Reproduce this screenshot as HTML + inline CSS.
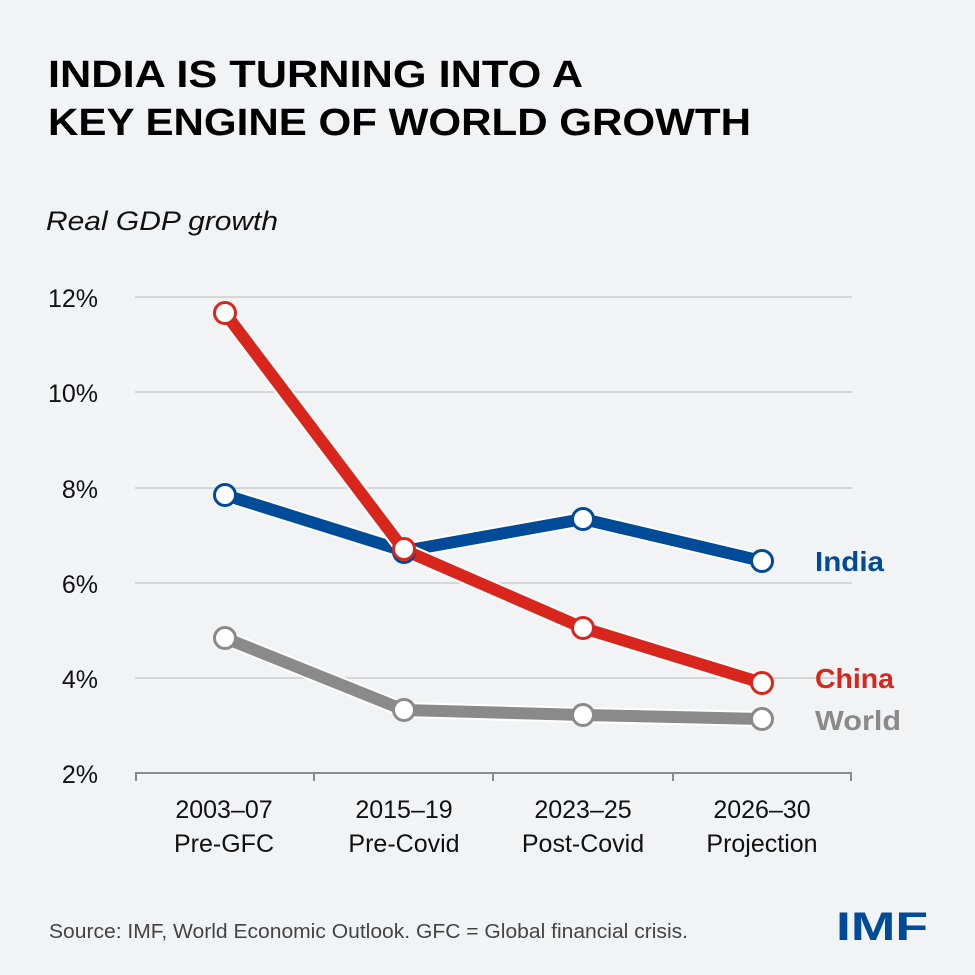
<!DOCTYPE html>
<html><head><meta charset="utf-8"><style>
html,body{margin:0;padding:0;background:#f2f3f5;}
svg{display:block;font-family:"Liberation Sans",sans-serif;}
</style></head><body>
<svg width="975" height="975" viewBox="0 0 975 975">
<rect width="975" height="975" fill="#f2f3f5"/>
<text x="48" y="87" font-size="38" font-weight="bold" fill="#000" textLength="535" lengthAdjust="spacingAndGlyphs">INDIA IS TURNING INTO A</text>
<text x="48" y="135" font-size="38" font-weight="bold" fill="#000" textLength="703" lengthAdjust="spacingAndGlyphs">KEY ENGINE OF WORLD GROWTH</text>
<text x="46" y="230" font-size="27" font-style="italic" fill="#111" textLength="232" lengthAdjust="spacingAndGlyphs">Real GDP growth</text>
<g stroke="#d6d6d8" stroke-width="2">
<line x1="135" y1="297" x2="852" y2="297"/><line x1="135" y1="392" x2="852" y2="392"/>
<line x1="135" y1="488" x2="852" y2="488"/><line x1="135" y1="583" x2="852" y2="583"/>
<line x1="135" y1="678" x2="852" y2="678"/>
</g>
<g stroke="#8a8a8a" stroke-width="2" fill="none">
<line x1="135" y1="773" x2="852" y2="773"/>
<line x1="136" y1="773" x2="136" y2="781"/><line x1="314" y1="773" x2="314" y2="781"/>
<line x1="493" y1="773" x2="493" y2="781"/><line x1="673" y1="773" x2="673" y2="781"/><line x1="851" y1="773" x2="851" y2="781"/>
</g>
<g font-size="25" fill="#111" text-anchor="end">
<text x="98" y="307">12%</text><text x="98" y="402">10%</text><text x="98" y="498">8%</text>
<text x="98" y="593">6%</text><text x="98" y="688">4%</text><text x="98" y="783">2%</text>
</g>
<g font-size="25" fill="#111" text-anchor="middle">
<text x="224" y="818">2003–07</text><text x="224" y="852">Pre-GFC</text>
<text x="404" y="818">2015–19</text><text x="404" y="852">Pre-Covid</text>
<text x="583" y="818">2023–25</text><text x="583" y="852">Post-Covid</text>
<text x="762" y="818">2026–30</text><text x="762" y="852">Projection</text>
</g>
<g fill="none" stroke-linejoin="round" stroke-linecap="round">
<polyline points="225,638 404,710 583,715 762,719" stroke="#fff" stroke-width="16"/>
<polyline points="225,638 404,710 583,715 762,719" stroke="#8a8a8a" stroke-width="12"/>
<polyline points="225,495 404,551 583,519 762,561" stroke="#fff" stroke-width="16"/>
<polyline points="225,495 404,551 583,519 762,561" stroke="#004b97" stroke-width="12"/>
<polyline points="225,313 404,550 583,628 762,683" stroke="#fff" stroke-width="16"/>
<polyline points="225,313 404,550 583,628 762,683" stroke="#d9261c" stroke-width="12"/>
</g>
<g fill="#fff" stroke-width="3">
<g stroke="#8a8a8a"><circle cx="225" cy="638" r="10.5"/><circle cx="404" cy="710" r="10.5"/><circle cx="583" cy="715" r="10.5"/><circle cx="762" cy="719" r="10.5"/></g>
<g stroke="#004b97"><circle cx="225" cy="495" r="10.5"/><circle cx="404" cy="552" r="10.5"/><circle cx="583" cy="519" r="10.5"/><circle cx="762" cy="561" r="10.5"/></g>
<g stroke="#d9261c"><circle cx="225" cy="313" r="10.5"/><circle cx="404" cy="549" r="10.5"/><circle cx="583" cy="628" r="10.5"/><circle cx="762" cy="683" r="10.5"/></g>
</g>
<g font-size="28" font-weight="bold">
<text x="815" y="571" fill="#004b97" textLength="69" lengthAdjust="spacingAndGlyphs">India</text>
<text x="815" y="688" fill="#d9261c" textLength="79" lengthAdjust="spacingAndGlyphs">China</text>
<text x="815" y="730" fill="#8a8a8a" textLength="86" lengthAdjust="spacingAndGlyphs">World</text>
</g>
<text x="49" y="938" font-size="20" fill="#444" textLength="639" lengthAdjust="spacingAndGlyphs">Source: IMF, World Economic Outlook. GFC = Global financial crisis.</text>
<text x="836" y="940" font-size="40" font-weight="bold" fill="#004b97" textLength="92" lengthAdjust="spacingAndGlyphs">IMF</text>
</svg>
</body></html>
